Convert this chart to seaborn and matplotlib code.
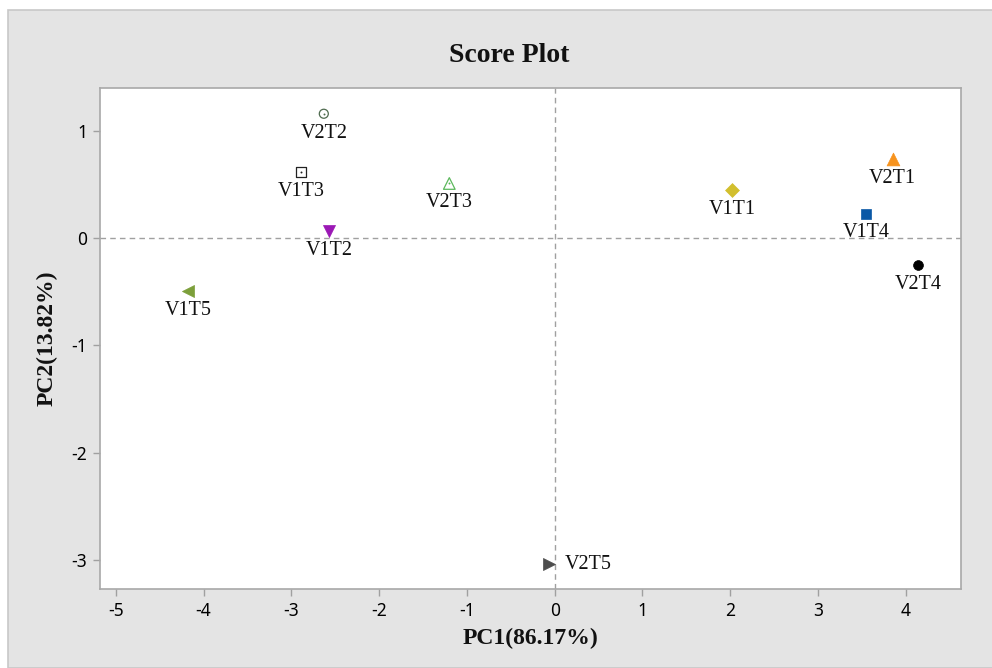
import matplotlib
matplotlib.use("Agg")
import matplotlib.pyplot as plt
import seaborn as sns
from matplotlib.patches import Rectangle

# Data
labels = ["V2T2", "V1T3", "V2T3", "V1T2", "V1T5", "V2T5", "V1T1", "V2T1", "V1T4", "V2T4"]
pc1 = [-2.63, -2.89, -1.20, -2.57, -4.18, -0.06, 2.02, 3.85, 3.55, 4.14]
pc2 = [1.16, 0.62, 0.51, 0.07, -0.49, -3.04, 0.45, 0.74, 0.23, -0.25]
xticks = [-5, -4, -3, -2, -1, 0, 1, 2, 3, 4]
yticks = [-3, -2, -1, 0, 1]

# Styles
markers = ["o", "s", "^", "v", "<", ">", "D", "^", "s", "o"]
colors = ["#4f6b4f", "#222222", "#5cb85c", "#9b18b5", "#7c9f3a", "#4d4d4d",
          "#d2bf2e", "#f7931e", "#0a58a6", "#000000"]
filled = [False, False, False, True, True, True, True, True, True, True]
sizes = [42, 55, 70, 75, 75, 75, 50, 85, 55, 50]

sns.set_style("white")
plt.rcParams["font.family"] = ["Noto Sans", "DejaVu Sans"]

fig = plt.figure(figsize=(9.92, 6.68), dpi=100)
fig.patch.set_facecolor("white")
W, H = 992, 668
fig.patches.append(Rectangle((8 / W, 0), 1, (H - 10) / H, transform=fig.transFigure,
                             facecolor="#e4e4e4", edgecolor="#c8c8c8", lw=1.2, zorder=-10))

ax = fig.add_axes([100 / W, (H - 589) / H, 861 / W, (589 - 88) / H])
ax.set_zorder(5)
ax.set_facecolor("white")

ax.axhline(0, color="#a0a0a0", lw=1, ls=(0, (4, 3)), zorder=1)
ax.axvline(0, color="#a0a0a0", lw=1, ls=(0, (4, 3)), zorder=1)

for i in range(len(labels)):
    if filled[i]:
        sns.scatterplot(x=[pc1[i]], y=[pc2[i]], marker=markers[i], color=colors[i],
                        s=sizes[i], edgecolor=colors[i], linewidth=0.5, ax=ax, zorder=3)
    else:
        sns.scatterplot(x=[pc1[i]], y=[pc2[i]], marker=markers[i], s=sizes[i],
                        facecolor="none", edgecolor=colors[i], linewidth=0.9,
                        ax=ax, zorder=3)
        sns.scatterplot(x=[pc1[i]], y=[pc2[i]], marker="o", s=2, color=colors[i],
                        edgecolor=colors[i], linewidth=0, ax=ax, zorder=4)
    if labels[i] == "V2T5":
        ax.annotate(labels[i], (pc1[i], pc2[i]), xytext=(11, 0), textcoords="offset points",
                    ha="left", va="center", fontsize=14.5, family="Liberation Serif",
                    color="#111111")
    else:
        ax.annotate(labels[i], (pc1[i], pc2[i]), xytext=(0, -14), textcoords="offset points",
                    ha="center", va="center", fontsize=14.5, family="Liberation Serif",
                    color="#111111")

ax.set_xlim(-5.18, 4.63)
ax.set_ylim(-3.27, 1.40)
ax.set_xticks(xticks)
ax.set_yticks(yticks)
ax.set_xticklabels([str(t) for t in xticks])
ax.set_yticklabels([str(t) for t in yticks])
ax.tick_params(axis="both", direction="out", length=5, width=1, color="#a0a0a0",
               labelsize=12.5, labelcolor="#000000", pad=4)
ax.tick_params(axis="both", which="both", bottom=True, left=True)

for sp in ax.spines.values():
    sp.set_visible(True)
    sp.set_color("#a8a8a8")
    sp.set_linewidth(1.2)

ax.set_xlabel("PC1(86.17%)", family="Liberation Serif", fontweight="bold", fontsize=17,
              labelpad=6, color="#111111")
ax.set_ylabel("PC2(13.82%)", family="Liberation Serif", fontweight="bold", fontsize=17,
              labelpad=10, color="#111111")
fig.text(509 / W, 1 - 55 / H, "Score Plot", family="Liberation Serif", fontweight="bold",
         fontsize=20, ha="center", va="center", color="#111111")

fig.savefig("out.png", dpi=100, facecolor=fig.get_facecolor())
